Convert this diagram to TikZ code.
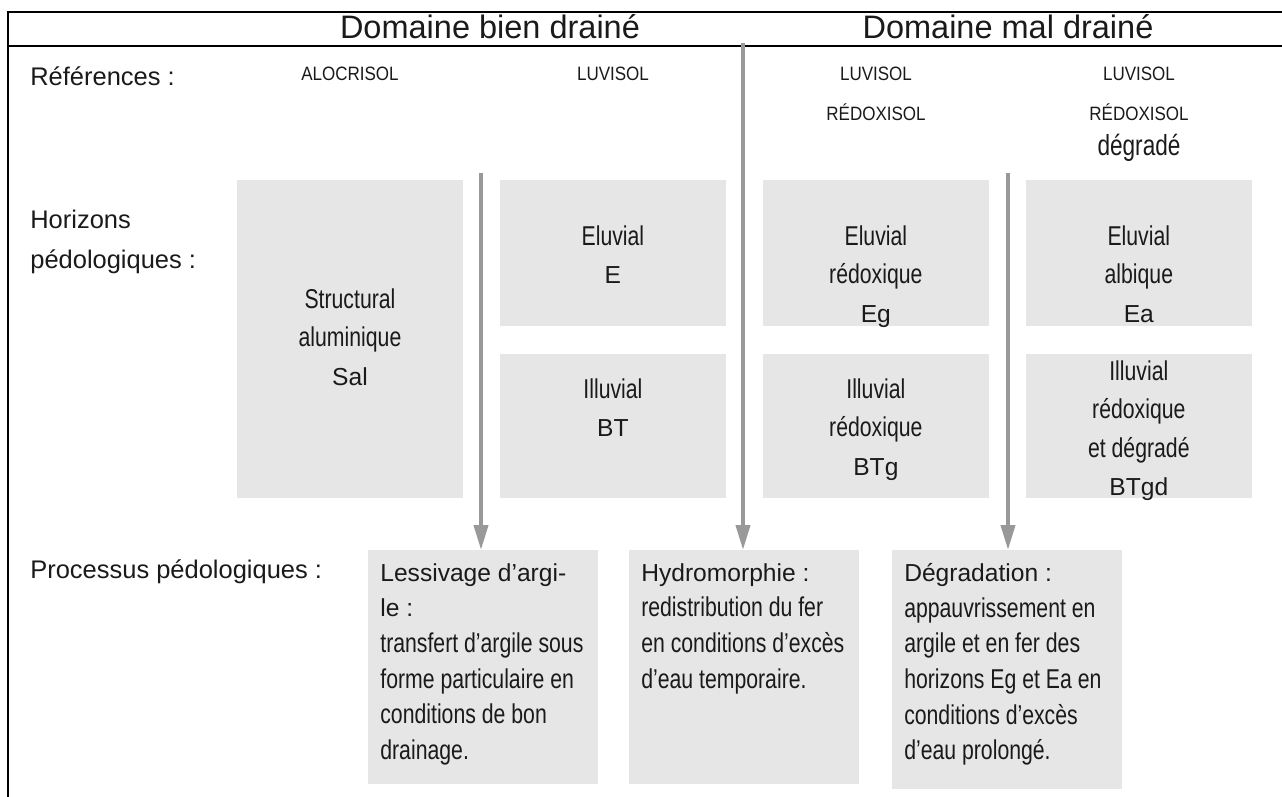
\documentclass[tikz,border=0pt]{standalone}
\usepackage{fontspec}
\setmainfont{Liberation Sans}
\newfontfamily\etroit[FakeStretch=0.78]{Liberation Sans}
\newfontfamily\serre[FakeStretch=0.88]{Liberation Sans}
\usepackage{tikz}
\usetikzlibrary{arrows.meta}
\usetikzlibrary{positioning}

\definecolor{fond}{HTML}{E6E6E6}
\definecolor{gris}{HTML}{999999}
\definecolor{encre}{HTML}{1A1A1A}

\newcommand{\lbl}{\normalfont\fontsize{14}{21.9}\selectfont}

\tikzset{
	cadre/.style={draw=black, line width=0.9pt},
	titre/.style={text=encre, inner sep=0, font=\fontsize{18.5}{22}\selectfont},
	etiquette/.style={text=encre, inner sep=0, anchor=west, align=left, font=\fontsize{14.5}{22.7}\selectfont},
	reference/.style={text=encre, inner sep=0, font=\serre\fontsize{11}{13}\selectfont},
	horizon/.style={fill=fond, draw=none, inner sep=0, outer sep=0, minimum width=4.52cm},
	haut/.style={horizon, minimum height=2.92cm},
	bas/.style={horizon, minimum height=2.88cm},
	contenu/.style={text=encre, inner sep=0, align=center, font=\etroit\fontsize{15.5}{21.9}\selectfont},
	processus/.style={fill=fond, draw=none, inner sep=0, outer sep=0, minimum width=4.6cm, minimum height=4.68cm},
	descriptif/.style={text=encre, inner xsep=0.24cm, inner ysep=0.26cm, anchor=north west, align=left, font=\etroit\fontsize{15.5}{20.3}\selectfont},
	descente/.style={draw=gris, line width=0.08cm, -{Triangle[length=0.5cm, width=0.28cm]}}
}

\begin{document}
\begin{tikzpicture}[x=0.02cm, y=-0.02cm]
	\useasboundingbox (0,0) rectangle (1282,797);

	\draw[cadre] (1282,12) -- (8,12) -- (8,797);
	\draw[cadre] (8,46) -- (1282,46);

	\node[titre] (bien) at (490,27) {Domaine bien drainé};
	\node[titre] (mal) at (1008,27) {Domaine mal drainé};

	\node[etiquette] (ref) at (30,76) {Références :};
	\node[etiquette] (hor) at (30,242) {Horizons\\pédologiques :};
	\node[etiquette] (proc) at (30,572) {Processus pédologiques :};

	\node[reference] (alo) at (350,74) {ALOCRISOL};
	\node[reference] (luva) at (613,74) {LUVISOL};
	\node[reference] (luvb) at (876,74) {LUVISOL};
	\node[reference] (redb) at (876,112) {RÉDOXISOL};
	\node[reference] (luvc) at (1139,74) {LUVISOL};
	\node[reference] (redc) at (1139,112) {RÉDOXISOL};
	\node[contenu, font=\etroit\fontsize{16.5}{20}\selectfont] (degc) at (1139,148) {dégradé};

	\node[horizon, minimum height=6.36cm, anchor=north west] (sal) at (237,180) {};
	\node[haut, right=0.74cm of sal.north east, anchor=north west] (elua) {};
	\node[bas, below=0.56cm of elua] (illa) {};
	\node[haut, right=0.74cm of elua] (elub) {};
	\node[bas, right=0.74cm of illa] (illb) {};
	\node[haut, right=0.74cm of elub] (eluc) {};
	\node[bas, right=0.74cm of illb] (illc) {};

	\node[contenu, below=2.16cm of sal.north] (salt) {Structural\\aluminique\\{\lbl Sal}};
	\node[contenu, below=0.9cm of elua.north] (eluat) {Eluvial\\{\lbl E}};
	\node[contenu, below=0.48cm of illa.north] (illat) {Illuvial\\{\lbl BT}};
	\node[contenu, below=0.9cm of elub.north] (elubt) {Eluvial\\rédoxique\\{\lbl Eg}};
	\node[contenu, below=0.48cm of illb.north] (illbt) {Illuvial\\rédoxique\\{\lbl BTg}};
	\node[contenu, below=0.9cm of eluc.north] (eluct) {Eluvial\\albique\\{\lbl Ea}};
	\node[contenu, below=0.12cm of illc.north] (illct) {Illuvial\\rédoxique\\et dégradé\\{\lbl BTgd}};

	\node[processus, anchor=north west] (pa) at (368,550) {};
	\node[processus, right=0.62cm of pa.north east, anchor=north west] (pb) {};
	\node[processus, minimum height=4.78cm, right=0.66cm of pb.north east, anchor=north west] (pc) {};

	\node[descriptif] (pat) at (pa.north west) {{\lbl Lessivage d’argi-}\\{\lbl le :}\\transfert d’argile sous\\forme particulaire en\\conditions de bon\\drainage.};
	\node[descriptif] (pbt) at (pb.north west) {{\lbl Hydromorphie :}\\redistribution du fer\\en conditions d’excès\\d’eau temporaire.};
	\node[descriptif] (pct) at (pc.north west) {{\lbl Dégradation :}\\appauvrissement en\\argile et en fer des\\horizons Eg et Ea en\\conditions d’excès\\d’eau prolongé.};

	\coordinate (da) at (481,173);
	\coordinate (db) at (743,43);
	\coordinate (dc) at (1008,173);
	\draw[descente] (da) -- (da |- pa.north);
	\draw[descente] (db) -- (db |- pb.north);
	\draw[descente] (dc) -- (dc |- pc.north);
\end{tikzpicture}
\end{document}
